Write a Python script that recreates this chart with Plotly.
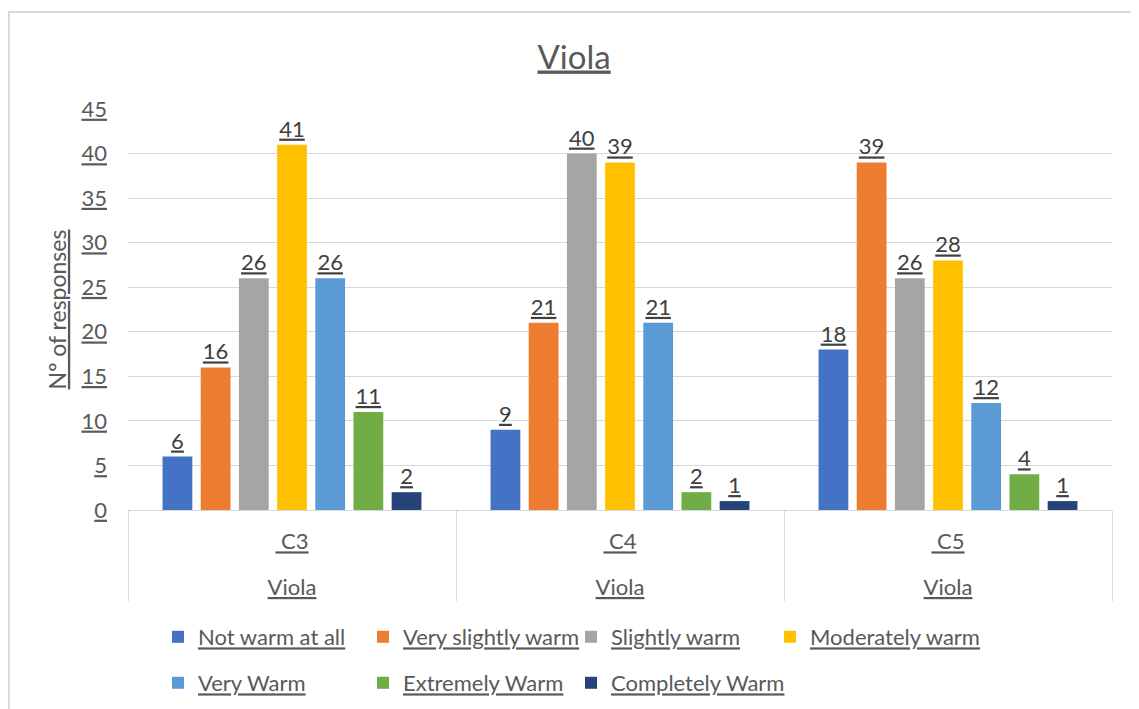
import plotly.graph_objects as go

# categories (inner level under each group, outer level below it)
notes = [" C3", " C4", " C5"]
# same text, distinct markup so each group keeps its own outer label
instrument = ["<br>Viola", "<br><span>Viola</span>", "<span></span><br>Viola"]

series_names = ["Not warm at all", "Very slightly warm", "Slightly warm", "Moderately warm",
                "Very Warm", "Extremely Warm", "Completely Warm"]
not_warm = [6, 9, 18]
very_slightly = [16, 21, 39]
slightly = [26, 40, 26]
moderately = [41, 39, 28]
very_warm = [26, 21, 12]
extremely = [11, 2, 4]
completely = [2, 1, 1]
y_ticks = [0, 5, 10, 15, 20, 25, 30, 35, 40, 45]

COLORS = ["#4472C4", "#ED7D31", "#A5A5A5", "#FFC000", "#5B9BD5", "#70AD47", "#264478"]
FONT = "Lato"
GREY = "#595959"
UNDER = dict(family=FONT, size=22, color=GREY, lineposition="under")

# one legend per entry so the entries sit like the Excel legend (px in the figure)
legend_x = [150, 355, 563, 762, 150, 355, 563]
legend_y = [629, 629, 629, 629, 675, 675, 675]

fig = go.Figure()
values = [not_warm, very_slightly, slightly, moderately, very_warm, extremely, completely]
for i, (name, vals) in enumerate(zip(series_names, values)):
    fig.add_trace(go.Bar(
        x=[instrument, notes],
        y=vals,
        name=name,
        showlegend=True,
        marker=dict(color=COLORS[i], line=dict(width=0)),
        text=vals,
        textposition="outside",
        textfont=dict(family=FONT, size=22, color="#404040", lineposition="under"),
        cliponaxis=False,
        legend="legend" if i == 0 else f"legend{i + 1}",
    ))

legends = {}
for i in range(len(series_names)):
    key = "legend" if i == 0 else f"legend{i + 1}"
    legends[key] = dict(orientation="h", xref="container", yref="container",
                        x=legend_x[i] / 1139, y=1 - legend_y[i] / 709, visible=True,
                        xanchor="left", yanchor="middle", font=UNDER, itemclick=False,
                        bgcolor="rgba(0,0,0,0)")

# page body adds 8px offset, so positions below are relative to the figure itself
fig.update_layout(
    width=1139, height=709,
    margin=dict(l=120, r=35, t=101, b=207),
    paper_bgcolor="white", plot_bgcolor="white",
    font=dict(family=FONT, size=22, color=GREY),
    showlegend=True,
    barmode="group", bargap=0.185, bargroupgap=0.22,
    title=dict(text="Viola", x=0.497, xanchor="center", y=1 - 49 / 709, yanchor="middle",
               font=dict(family=FONT, size=33, color=GREY, lineposition="under")),
    shapes=[dict(type="rect", xref="paper", yref="paper", x0=-0.121, x1=1.5, y0=-1, y1=1.242,
                 line=dict(color="#d9d9d9", width=2), layer="below")],
    **legends,
)
fig.update_yaxes(
    range=[0, 45], tickvals=y_ticks, showgrid=True, gridcolor="#d9d9d9", gridwidth=1,
    zeroline=False, showline=False, ticks="", ticklabelstandoff=20,
    tickfont=UNDER,
    title=dict(text="Nº of responses", standoff=8,
               font=dict(family=FONT, size=23, color=GREY, lineposition="under")),
)
fig.update_xaxes(
    type="multicategory", showline=True, linecolor="#d9d9d9", linewidth=1,
    showdividers=True, dividercolor="#d9d9d9", dividerwidth=1, ticks="",
    ticklabelstandoff=12, tickfont=UNDER,
)

fig.write_html("out.html")
